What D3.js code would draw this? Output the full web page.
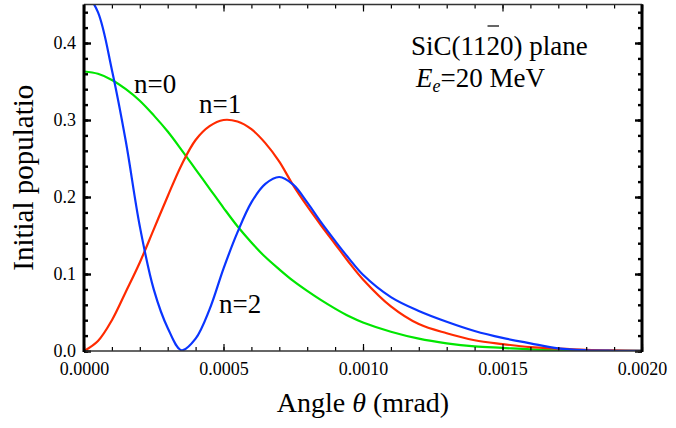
<!DOCTYPE html>
<html>
<head>
<meta charset="utf-8">
<script src="https://cdn.jsdelivr.net/npm/d3@7"></script>
<style>
body { margin: 0; background: #fff; }
text { font-family: "Liberation Serif", "Times New Roman", serif; }
</style>
</head>
<body>
<script>
// angle (mrad axis values) and initial population of each state
var theta = [0, 0.00005, 0.0001, 0.00015, 0.0002, 0.00025, 0.0003, 0.00035, 0.0004, 0.00045,
    0.0005, 0.00055, 0.0006, 0.00065, 0.0007, 0.00075, 0.0008, 0.00085, 0.0009, 0.00095,
    0.001, 0.0011, 0.0012, 0.0013, 0.0014, 0.0015, 0.0016, 0.0017, 0.0018, 0.0019, 0.002];

var popN0 = [0.363, 0.360, 0.352, 0.340, 0.325, 0.306, 0.285, 0.261, 0.236, 0.211,
    0.186, 0.162, 0.141, 0.122, 0.106, 0.091, 0.078, 0.066, 0.055, 0.045,
    0.037, 0.025, 0.016, 0.010, 0.006, 0.004, 0.002, 0.001, 0.0005, 0.0002, 0.0001];

var popN1 = [0, 0.013, 0.040, 0.077, 0.115, 0.158, 0.201, 0.242, 0.274, 0.292,
    0.300, 0.298, 0.288, 0.270, 0.246, 0.215, 0.188, 0.163, 0.139, 0.115,
    0.093, 0.058, 0.035, 0.023, 0.014, 0.009, 0.005, 0.003, 0.0015, 0.0007, 0.0003];

var popN2 = [0.470, 0.440, 0.365, 0.272, 0.162, 0.080, 0.030, 0.001, 0.016, 0.054,
    0.107, 0.154, 0.193, 0.217, 0.226, 0.216, 0.193, 0.167, 0.143, 0.120,
    0.099, 0.070, 0.052, 0.038, 0.026, 0.017, 0.010, 0.0035, 0.001, 0.0003, 0.0001];

var xTicks = [0, 0.0005, 0.001, 0.0015, 0.002];
var xTickLabels = ["0.0000", "0.0005", "0.0010", "0.0015", "0.0020"];
var yTicks = [0, 0.1, 0.2, 0.3, 0.4];
var yTickLabels = ["0.0", "0.1", "0.2", "0.3", "0.4"];

var w = 676, h = 428;
var pLeft = 84, pRight = 642, pTop = 4.5, pBottom = 351;

var svg = d3.select("body").append("svg")
    .attr("width", w)
    .attr("height", h);

var xScale = d3.scaleLinear().domain([0, 0.002]).range([pLeft, pRight]);
var yScale = d3.scaleLinear().domain([0, 0.45]).range([pBottom, pTop]);

var xMinor = d3.range(0, 0.00201, 0.0001);
var yMinor = d3.range(0, 0.4501, 0.02);

svg.append("clipPath").attr("id", "plot")
    .append("rect")
    .attr("x", pLeft).attr("y", pTop)
    .attr("width", pRight - pLeft).attr("height", pBottom - pTop);

// curves
var series = [
    { vals: popN0, color: "#00e600" },
    { vals: popN1, color: "#ff2a00" },
    { vals: popN2, color: "#0a35ff" }
];

var line = d3.line()
    .x(function(d) { return xScale(d[0]); })
    .y(function(d) { return yScale(d[1]); })
    .curve(d3.curveCatmullRom.alpha(0.5));

svg.append("g").attr("clip-path", "url(#plot)")
    .selectAll("path")
    .data(series)
    .enter()
    .append("path")
    .attr("d", function(s) { return line(theta.map(function(t, i) { return [t, s.vals[i]]; })); })
    .attr("fill", "none")
    .attr("stroke", function(s) { return s.color; })
    .attr("stroke-width", 2.2);

// axes (ticks point inward)
function tidy(g, width) {
    g.select(".domain").remove();
    g.selectAll("line").attr("stroke", "#000").attr("stroke-width", width);
}

svg.append("g").attr("transform", "translate(0," + pBottom + ")")
    .call(d3.axisBottom(xScale).tickValues(xMinor).tickSize(-4).tickFormat(""))
    .call(tidy, 1.2);
svg.append("g").attr("transform", "translate(0," + pBottom + ")")
    .call(d3.axisBottom(xScale).tickValues(xTicks).tickSize(-7).tickPadding(11)
        .tickFormat(function(d, i) { return xTickLabels[i]; }))
    .call(tidy, 1.2)
    .selectAll("text")
    .attr("font-family", "Liberation Serif")
    .attr("font-size", "18px")
    .attr("fill", "#000");

svg.append("g").attr("transform", "translate(0," + pTop + ")")
    .call(d3.axisTop(xScale).tickValues(xMinor).tickSize(-4).tickFormat(""))
    .call(tidy, 1.2);
svg.append("g").attr("transform", "translate(0," + pTop + ")")
    .call(d3.axisTop(xScale).tickValues(xTicks).tickSize(-7).tickFormat(""))
    .call(tidy, 1.2);

svg.append("g").attr("transform", "translate(" + pLeft + ",0)")
    .call(d3.axisLeft(yScale).tickValues(yMinor).tickSize(-4).tickFormat(""))
    .call(tidy, 2.4);
svg.append("g").attr("transform", "translate(" + pLeft + ",0)")
    .call(d3.axisLeft(yScale).tickValues(yTicks).tickSize(-7).tickPadding(8)
        .tickFormat(function(d, i) { return yTickLabels[i]; }))
    .call(tidy, 2.4)
    .selectAll("text")
    .attr("font-family", "Liberation Serif")
    .attr("font-size", "18px")
    .attr("fill", "#000");

svg.append("g").attr("transform", "translate(" + pRight + ",0)")
    .call(d3.axisRight(yScale).tickValues(yMinor).tickSize(-4).tickFormat(""))
    .call(tidy, 2.4);
svg.append("g").attr("transform", "translate(" + pRight + ",0)")
    .call(d3.axisRight(yScale).tickValues(yTicks).tickSize(-7).tickFormat(""))
    .call(tidy, 2.4);

// frame: thin top/bottom, heavy left/right
svg.append("line").attr("x1", pLeft).attr("x2", pRight).attr("y1", pTop).attr("y2", pTop)
    .attr("stroke", "#333").attr("stroke-width", 1.3);
svg.append("line").attr("x1", pLeft).attr("x2", pRight).attr("y1", pBottom).attr("y2", pBottom)
    .attr("stroke", "#333").attr("stroke-width", 1.3);
svg.append("line").attr("x1", pLeft).attr("x2", pLeft).attr("y1", pTop).attr("y2", pBottom + 1)
    .attr("stroke", "#000").attr("stroke-width", 3);
svg.append("line").attr("x1", pRight).attr("x2", pRight).attr("y1", pTop).attr("y2", pBottom + 1)
    .attr("stroke", "#000").attr("stroke-width", 3);

// axis titles
svg.append("text")
    .attr("x", (pLeft + pRight) / 2)
    .attr("y", 412)
    .attr("text-anchor", "middle")
    .attr("font-size", "28px")
    .html('Angle <tspan font-style="italic">θ</tspan> (mrad)');

svg.append("text")
    .attr("transform", "translate(33," + (pTop + pBottom) / 2 + ") rotate(-90)")
    .attr("text-anchor", "middle")
    .attr("font-size", "29px")
    .text("Initial populatio");

// curve labels
var curveLabels = [
    { text: "n=0", x: 134, y: 93 },
    { text: "n=1", x: 199, y: 113 },
    { text: "n=2", x: 219, y: 313 }
];
svg.selectAll("text.lab")
    .data(curveLabels)
    .enter()
    .append("text")
    .attr("class", "lab")
    .attr("x", function(d) { return d.x; })
    .attr("y", function(d) { return d.y; })
    .attr("font-size", "27px")
    .text(function(d) { return d.text; });

// annotation
var sic = svg.append("text")
    .attr("x", 411)
    .attr("y", 55)
    .attr("font-size", "27px")
    .text("SiC(1120) plane");
var node = sic.node();
var barX = 411 + node.getSubStringLength(0, 6);
var barW = node.getSubStringLength(6, 1);
svg.append("line")
    .attr("x1", barX + 1).attr("x2", barX + barW - 1)
    .attr("y1", 26).attr("y2", 26)
    .attr("stroke", "#000").attr("stroke-width", 1.2);

svg.append("text")
    .attr("x", 416)
    .attr("y", 87)
    .attr("font-size", "27px")
    .html('<tspan font-style="italic">E</tspan><tspan font-style="italic" font-size="18px" dy="5">e</tspan><tspan dy="-5">=20 MeV</tspan>');
</script>
</body>
</html>
